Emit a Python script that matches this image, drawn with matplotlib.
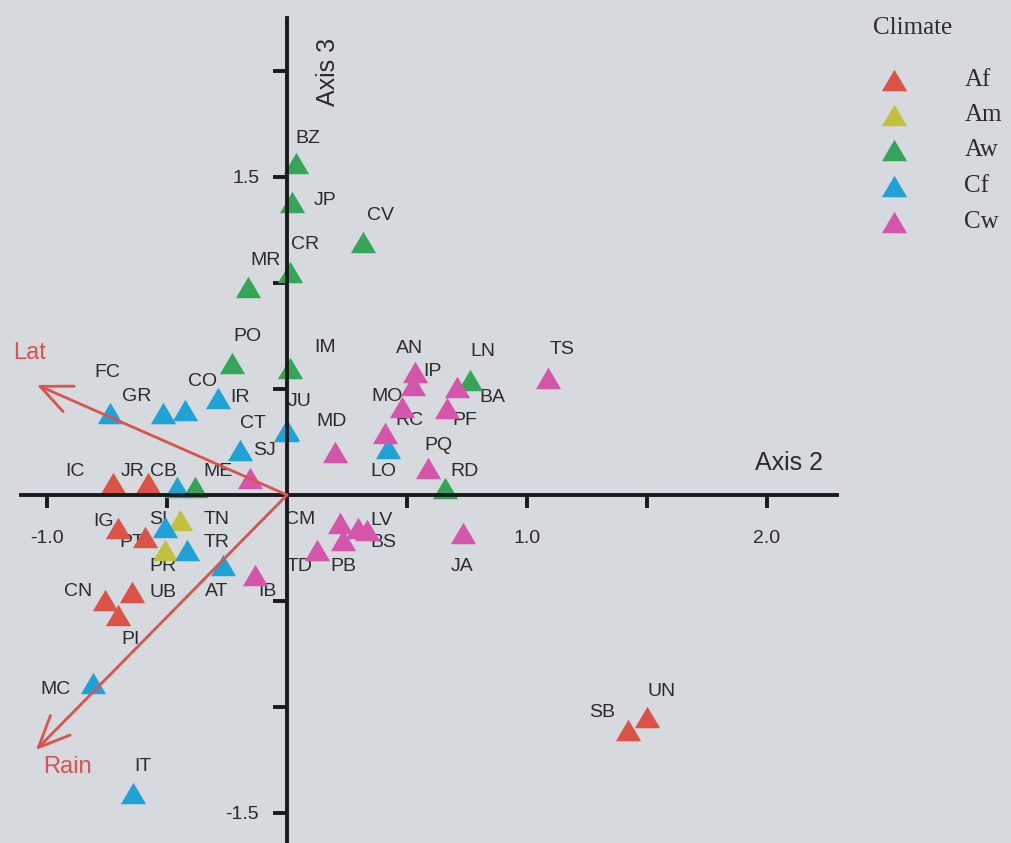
import matplotlib.pyplot as plt
from matplotlib.path import Path

# Scores de cada local nos eixos 2 e 3 da ordenação
sites = ['IC', 'JR', 'IG', 'PT', 'CN', 'UB', 'PI', 'SB', 'UN',
         'TN', 'PR',
         'BZ', 'JP', 'CV', 'CR', 'MR', 'PO', 'IM', 'LN', 'RD', '',
         'FC', 'GR', 'CO', 'IR', 'JU', 'CT', 'SJ', 'CB', 'SI', 'TR', 'AT', 'MC', 'IT', 'LO',
         'ME', 'AN', 'IP', 'BA', 'TS', 'MO', 'PF', 'RC', 'MD', 'PQ', 'CM', 'LV', 'BS', 'PB',
         'TD', 'JA', 'IB']
climate = (['Af'] * 9 + ['Am'] * 2 + ['Aw'] * 10 + ['Cf'] * 14 + ['Cw'] * 17)
axis2 = [-0.725, -0.579, -0.704, -0.592, -0.758, -0.646, -0.704, 1.421, 1.500,
         -0.446, -0.508,
         0.037, 0.021, 0.317, 0.012, -0.162, -0.229, 0.012, 0.762, 0.658, -0.383,
         -0.738, -0.517, -0.425, -0.288, 0.000, -0.004, -0.196, -0.458, -0.508, -0.417,
         -0.267, -0.808, -0.642, 0.421,
         -0.154, 0.533, 0.525, 0.708, 1.088, 0.479, 0.667, 0.408, 0.200, 0.588, 0.221,
         0.296, 0.333, 0.233, 0.125, 0.733, -0.133]
axis3 = [0.057, 0.057, -0.156, -0.198, -0.495, -0.458, -0.566, -1.108, -1.047,
         -0.118, -0.259,
         1.566, 1.382, 1.193, 1.052, 0.981, 0.623, 0.599, 0.542, 0.033, 0.038,
         0.387, 0.387, 0.401, 0.458, 0.307, 0.302, 0.212, 0.038, -0.151, -0.259,
         -0.330, -0.887, -1.406, 0.222,
         0.080, 0.580, 0.519, 0.509, 0.552, 0.415, 0.410, 0.292, 0.203, 0.127, -0.132,
         -0.156, -0.165, -0.212, -0.259, -0.179, -0.377]

# Vetores ambientais (latitude e precipitação)
vectors = ['Lat', 'Rain']
vec_axis2 = [-1.042, -1.046]
vec_axis3 = [0.519, -1.203]

climates = ['Af', 'Am', 'Aw', 'Cf', 'Cw']
colors = {'Af': '#dc5247', 'Am': '#c3c03c', 'Aw': '#35a55a',
          'Cf': '#1fa3d6', 'Cw': '#d455aa'}

x_ticks = [-1.0, -0.5, 0.5, 1.0, 1.5, 2.0]
x_ticklabels = ['-1.0', '', '', '1.0', '', '2.0']
y_ticks = [-1.5, -1.0, -0.5, 0.5, 1.0, 1.5, 2.0]
y_ticklabels = ['-1.5', '', '', '', '', '1.5', '']

# deslocamento (em pixels) de cada rótulo em relação ao triângulo
offsets = {
    'IC': (-38, 11), 'JR': (-15, 11), 'IG': (-15, 7), 'PT': (-13, -6),
    'CN': (-27, 8), 'UB': (31, 0), 'PI': (12, -25), 'SB': (-26, 17),
    'UN': (15, 25), 'TN': (37, 0), 'PR': (-2, -17), 'BZ': (12, 25),
    'JP': (33, 2), 'CV': (17, 27), 'CR': (15, 27), 'MR': (17, 27),
    'PO': (15, 26), 'IM': (35, 20), 'LN': (13, 29), 'RD': (20, 16),
    'FC': (-3, 40), 'GR': (-26, 16), 'CO': (18, 28), 'IR': (22, 0),
    'JU': (13, 28), 'CT': (-33, 7), 'SJ': (25, 0), 'CB': (-14, 15),
    'SI': (-7, 7), 'TR': (30, 7), 'AT': (-6, -27), 'MC': (-38, -7),
    'IT': (10, 26), 'LO': (-5, -24), 'ME': (-32, 6), 'AN': (-5, 24),
    'IP': (19, 13), 'BA': (35, -10), 'TS': (14, 28), 'MO': (-15, 10),
    'PF': (18, -12), 'RC': (25, 13), 'MD': (-3, 30), 'PQ': (10, 23),
    'CM': (-40, 3), 'LV': (24, 8), 'BS': (16, -13), 'PB': (0, -27),
    'TD': (-17, -17), 'JA': (-1, -34), 'IB': (12, -17),
}

# triângulo um pouco achatado
tri = Path([(-1, -0.85), (1, -0.85), (0, 0.85), (-1, -0.85)],
           [Path.MOVETO, Path.LINETO, Path.LINETO, Path.CLOSEPOLY])

fundo = '#d6dadf'
cor_texto = '#2b2b2b'
cor_vetor = '#d9534f'

plt.rcParams['font.family'] = ['Liberation Sans', 'DejaVu Sans']

fig = plt.figure(figsize=(10.12, 8.43), dpi=100, facecolor=fundo)
ax = fig.add_axes([0, 0, 1, 1], facecolor=fundo)
ax.set_xlim(-1.196, 3.021)
ax.set_ylim(-1.642, 2.335)

# eixos cruzando na origem
for lado in ['top', 'right']:
    ax.spines[lado].set_visible(False)
ax.spines['left'].set_position(('data', 0))
ax.spines['bottom'].set_position(('data', 0))
ax.spines['left'].set_bounds(-1.7, 2.25)
ax.spines['bottom'].set_bounds(-1.11, 2.29)
for lado in ['left', 'bottom']:
    ax.spines[lado].set_linewidth(2.8)
    ax.spines[lado].set_color('#1a1a1a')
    ax.spines[lado].set_zorder(3)

ax.set_xticks(x_ticks)
ax.set_xticklabels(x_ticklabels)
ax.set_yticks(y_ticks)
ax.set_yticklabels(y_ticklabels)
ax.tick_params(axis='x', direction='out', length=9, width=2.8, color='#1a1a1a',
               pad=16, labelsize=14, labelcolor=cor_texto)
ax.tick_params(axis='y', direction='out', length=10, width=2.8, color='#1a1a1a',
               pad=10, labelsize=14, labelcolor=cor_texto)

# pontos por clima
for c in climates:
    xs = [x for x, k in zip(axis2, climate) if k == c]
    ys = [y for y, k in zip(axis3, climate) if k == c]
    ax.scatter(xs, ys, marker=tri, s=330, color=colors[c], linewidths=0, zorder=2)

# rótulos dos locais
for nome, x, y in zip(sites, axis2, axis3):
    if not nome:
        continue
    dx, dy = offsets[nome]
    ax.annotate(nome, (x, y), xytext=(dx, dy), textcoords='offset pixels',
                ha='center', va='center', fontsize=14, color=cor_texto, zorder=1.5)

# vetores
for nome, vx, vy in zip(vectors, vec_axis2, vec_axis3):
    ax.annotate('', xy=(vx, vy), xytext=(0, 0),
                arrowprops=dict(arrowstyle='->, head_length=0.9, head_width=0.4',
                                mutation_scale=25, color=cor_vetor, lw=2,
                                shrinkA=0, shrinkB=0), zorder=4)
ax.text(-1.071, 0.67, 'Lat', fontsize=17, color=cor_vetor, ha='center', va='center')
ax.text(-0.917, -1.283, 'Rain', fontsize=17, color=cor_vetor, ha='center', va='center')

# títulos dos eixos
ax.text(2.092, 0.151, 'Axis 2', fontsize=18, color=cor_texto, ha='center', va='center')
ax.text(0.171, 1.995, 'Axis 3', fontsize=18, color=cor_texto, ha='center', va='center',
        rotation=90)

# legenda
ax.text(0.863, 0.967, 'Climate', transform=ax.transAxes, fontsize=18,
        family='Liberation Serif', color=cor_texto, ha='left', va='center')
linhas_px = [80, 115, 150, 186, 222]
for c, py in zip(climates, linhas_px):
    yy = 1 - py / 843
    ax.scatter([0.883], [yy], marker=tri, s=330, color=colors[c], linewidths=0,
               transform=ax.transAxes, clip_on=False, zorder=2)
    ax.text(0.953, yy, c, transform=ax.transAxes, fontsize=18,
            family='Liberation Serif', color=cor_texto, ha='left', va='center')

fig.savefig('out.png', dpi=100, facecolor=fundo)
